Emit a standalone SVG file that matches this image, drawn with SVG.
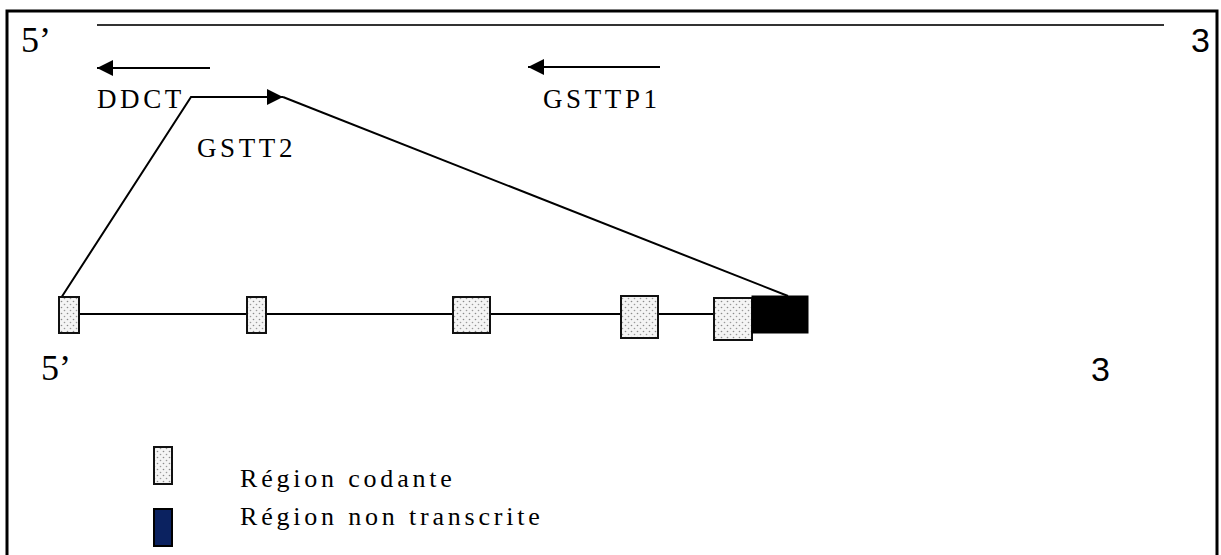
<svg xmlns="http://www.w3.org/2000/svg" width="1221" height="555" viewBox="0 0 1221 555">
<style>
.ln{stroke:#000;stroke-width:2;fill:none}
.exon{fill:url(#stip);stroke:#111;stroke-width:2}
</style>
<defs>
<pattern id="stip" width="6" height="6" patternUnits="userSpaceOnUse">
<rect width="6" height="6" fill="#f4f4f4"/>
<circle cx="1.5" cy="1.5" r="0.8" fill="#8a8a8a"/>
<circle cx="4.5" cy="4.5" r="0.8" fill="#9a9a9a"/>
</pattern>
<marker id="ah" viewBox="0 0 10 10" refX="10" refY="5" markerWidth="18" markerHeight="16" markerUnits="userSpaceOnUse" orient="auto">
<path d="M0,0 L10,5 L0,10 z" fill="#000"/>
</marker>
</defs>
<rect width="1221" height="555" fill="#fff"/>
<path d="M7,556 V11 H1217 V556" fill="none" stroke="#000" stroke-width="3"/>

<g id="top-strand">
<line x1="97" y1="25" x2="1164" y2="25" stroke="#333" stroke-width="2"/>
<text x="21" y="52" style="font-family:'Liberation Serif',serif" font-size="36">5’</text>
<text x="1191" y="52" style="font-family:'Liberation Sans',sans-serif" font-size="34">3</text>
</g>

<g id="connectors">
<line class="ln" x1="210" y1="68" x2="97" y2="68" marker-end="url(#ah)"/>
<line class="ln" x1="660" y1="67" x2="528" y2="67" marker-end="url(#ah)"/>
<polyline class="ln" points="61,298 191,97 283,97" marker-end="url(#ah)"/>
<line class="ln" x1="283" y1="97" x2="788" y2="296"/>
<line class="ln" x1="80" y1="314" x2="713" y2="314"/>
</g>

<g id="ddct"><text x="97" y="108" style="font-family:'Liberation Serif',serif" font-size="27" letter-spacing="3.6">DDCT</text></g>
<g id="gstt2"><text x="197" y="157" style="font-family:'Liberation Serif',serif" font-size="27" letter-spacing="3.6">GSTT2</text></g>
<g id="gsttp1"><text x="543" y="108" style="font-family:'Liberation Serif',serif" font-size="27" letter-spacing="3.6">GSTTP1</text></g>

<g id="exon1"><rect class="exon" x="59" y="297" width="20" height="36"/></g>
<g id="exon2"><rect class="exon" x="247" y="297" width="19" height="36"/></g>
<g id="exon3"><rect class="exon" x="453" y="297" width="37" height="36"/></g>
<g id="exon4"><rect class="exon" x="621" y="296" width="37" height="42"/></g>
<g id="exon5"><rect class="exon" x="714" y="298" width="38" height="42"/></g>
<g id="utr"><rect x="752" y="296" width="56" height="37" fill="#000" stroke="#000" stroke-width="1"/></g>

<g id="bottom-ends">
<text x="41" y="380" style="font-family:'Liberation Serif',serif" font-size="36">5’</text>
<text x="1091" y="381" style="font-family:'Liberation Sans',sans-serif" font-size="34">3</text>
</g>

<g id="legend-coding">
<rect class="exon" x="154" y="447" width="18" height="37"/>
<text x="240" y="487" style="font-family:'Liberation Serif',serif" font-size="26" letter-spacing="3.8">Région codante</text>
</g>
<g id="legend-utr">
<rect x="154" y="509" width="18" height="37" fill="#0b2260" stroke="#000" stroke-width="2"/>
<text x="240" y="525" style="font-family:'Liberation Serif',serif" font-size="26" letter-spacing="3.8">Région non transcrite</text>
</g>
</svg>
